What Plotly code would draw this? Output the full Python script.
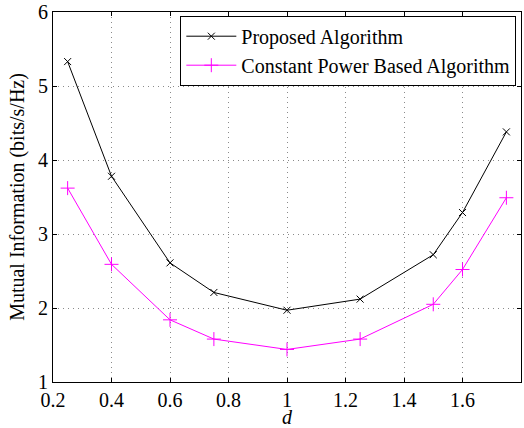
import plotly.graph_objects as go

d = [0.25, 0.4, 0.6, 0.75, 1.0, 1.25, 1.5, 1.6, 1.75]
proposed = [5.33, 3.78, 2.61, 2.21, 1.97, 2.12, 2.72, 3.29, 4.38]
constant = [3.62, 2.59, 1.84, 1.58, 1.44, 1.58, 2.05, 2.52, 3.49]
xticks = [0.2, 0.4, 0.6, 0.8, 1.0, 1.2, 1.4, 1.6]
xticklabels = ["0.2", "0.4", "0.6", "0.8", "1", "1.2", "1.4", "1.6"]
yticks = [1, 2, 3, 4, 5, 6]

font = "Liberation Serif, Times New Roman, serif"
gridc = "#8a8a8a"
griddash = "1px,4px"

fig = go.Figure()
fig.add_trace(go.Scatter(
    x=d, y=proposed, mode="lines+markers", name="Proposed Algorithm",
    line=dict(color="black", width=1),
    marker=dict(symbol="x-thin", size=7, line=dict(color="black", width=1)),
))
fig.add_trace(go.Scatter(
    x=d, y=constant, mode="lines+markers", name="Constant Power Based Algorithm",
    line=dict(color="#ff00ff", width=1),
    marker=dict(symbol="cross-thin", size=10, line=dict(color="#ff00ff", width=1)),
))

fig.update_layout(
    width=524, height=428,
    margin=dict(l=53, r=3, t=12, b=46),
    paper_bgcolor="white", plot_bgcolor="white",
    font=dict(family=font, size=20, color="black"),
    showlegend=True,
    legend=dict(
        x=0.99, y=0.99, xanchor="right", yanchor="top",
        bgcolor="white", bordercolor="black", borderwidth=1,
        font=dict(family=font, size=20),
        tracegroupgap=0, itemwidth=50,
    ),
    xaxis=dict(
        range=[0.2, 1.8], tickvals=xticks, ticktext=xticklabels,
        showgrid=True, gridcolor=gridc, griddash=griddash, gridwidth=1,
        ticks="inside", ticklen=4, tickcolor="black",
        showline=True, linecolor="black", linewidth=1, mirror="ticks",
        zeroline=False, tickfont=dict(size=20), automargin=False,
    ),
    yaxis=dict(
        range=[1, 6], tickvals=yticks,
        showgrid=True, gridcolor=gridc, griddash=griddash, gridwidth=1,
        ticks="inside", ticklen=4, tickcolor="black",
        showline=True, linecolor="black", linewidth=1, mirror="ticks",
        zeroline=False, tickfont=dict(size=20), automargin=False,
        title=dict(text="Mutual Information (bits/s/Hz)", font=dict(family=font, size=20), standoff=8),
    ),
)
fig.add_annotation(text="<i>d</i>", xref="paper", yref="paper", x=0.5, y=0,
                   xanchor="center", yanchor="middle", yshift=-35, showarrow=False,
                   font=dict(family=font, size=20))

fig.write_html("out.html")
